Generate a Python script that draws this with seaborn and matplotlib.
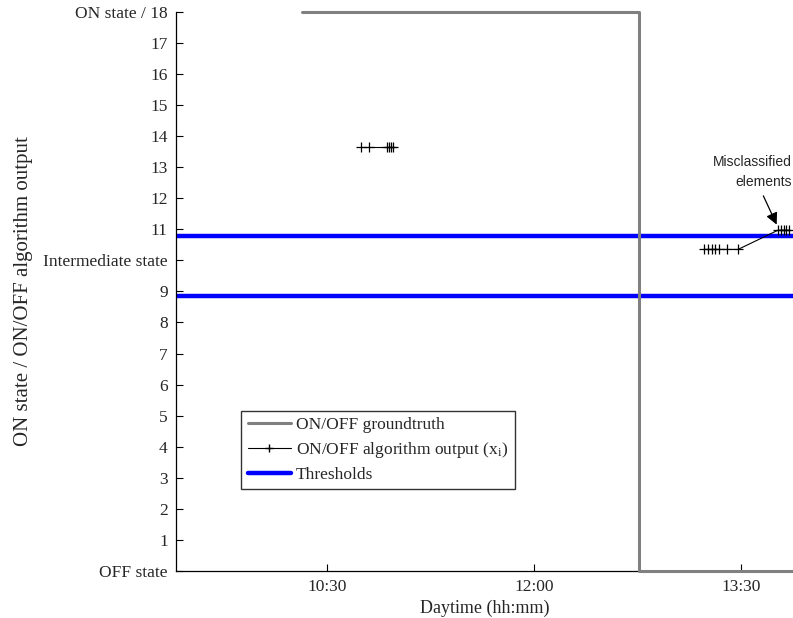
import matplotlib
matplotlib.use("Agg")
import matplotlib.pyplot as plt
from matplotlib.lines import Line2D
import numpy as np
import pandas as pd
import seaborn as sns

# Time axis in minutes since midnight
tick_minutes = [630, 720, 810]
tick_labels = ["10:30", "12:00", "13:30"]

# Ground truth ON/OFF state of the appliance
gt_time = [619.1, 765.7, 765.7, 840.0]
gt_state = [18, 18, 0, 0]

# Algorithm output x_i, two runs of consecutive detections
algo_time_a = [644.8, 648.3, 656.1, 657.0, 657.8, 658.7]
algo_value_a = [13.65, 13.65, 13.65, 13.65, 13.65, 13.65]
algo_time_b = [793.9, 795.7, 797.4, 798.7, 800.4, 803.9, 808.7,
               826.1, 827.4, 828.7, 829.6, 830.9]
algo_value_b = [10.35, 10.35, 10.35, 10.35, 10.35, 10.35, 10.35,
                10.97, 10.97, 10.97, 10.97, 10.97]

# Classification thresholds
thresholds = [8.85, 10.79]

y_ticks = list(range(0, 19))
y_labels = [str(v) for v in y_ticks]
y_labels[0] = "OFF state"
y_labels[10] = "Intermediate state"
y_labels[18] = "ON state / 18"

sns.set_theme(style="white")
plt.rcParams["font.family"] = ["Liberation Serif", "DejaVu Serif"]
plt.rcParams["mathtext.fontset"] = "stix"

fig = plt.figure(figsize=(7.93, 6.18), dpi=100)
ax = fig.add_axes([0.222, 0.076, 0.778, 0.905])

gt = pd.DataFrame({"time": gt_time, "state": gt_state})
algo = pd.DataFrame({
    "time": algo_time_a + algo_time_b,
    "value": algo_value_a + algo_value_b,
    "run": ["a"] * len(algo_time_a) + ["b"] * len(algo_time_b),
})

for t in thresholds:
    ax.axhline(t, color="#0000ff", lw=3.2, zorder=2)

sns.lineplot(data=gt, x="time", y="state", color="#808080", lw=2.2,
             sort=False, estimator=None, ax=ax, zorder=3, clip_on=False)
sns.lineplot(data=algo, x="time", y="value", units="run", estimator=None,
             sort=False, color="black", lw=0.8, marker="+", markersize=7,
             markeredgewidth=0.9, markeredgecolor="black", ax=ax, zorder=4)

ax.set_xlim(564.4, 832.6)
ax.set_ylim(0, 18)
ax.set_xticks(tick_minutes)
ax.set_xticklabels(tick_labels)
ax.set_yticks(y_ticks)
ax.set_yticklabels(y_labels)
ax.tick_params(direction="in", length=5, width=0.8, color="black",
               labelsize=12.5, pad=6, left=True, bottom=True)
for side in ["top", "right"]:
    ax.spines[side].set_visible(False)
for side in ["left", "bottom"]:
    ax.spines[side].set_color("black")
    ax.spines[side].set_linewidth(0.9)

ax.set_xlabel("Daytime (hh:mm)", fontsize=13, labelpad=3)
ax.set_ylabel("ON state / ON/OFF algorithm output", fontsize=15, labelpad=7)

ax.annotate("Misclassified\nelements", xy=(825.5, 11.15), xytext=(832.0, 12.85),
            ha="right", va="center", fontsize=10, linespacing=1.55,
            family=["Liberation Sans", "DejaVu Sans"],
            arrowprops=dict(arrowstyle="-|>,head_length=0.7,head_width=0.35",
                            color="black", lw=0.9, shrinkA=3, shrinkB=0),
            annotation_clip=False)

handles = [
    Line2D([], [], color="#808080", lw=2.2),
    Line2D([], [], color="black", lw=0.8, marker="+", markersize=6,
           markevery=[1], markeredgecolor="black"),
    Line2D([], [], color="#0000ff", lw=3.2),
]
labels = ["ON/OFF groundtruth", "ON/OFF algorithm output (x$_{\\mathregular{i}}$)",
          "Thresholds"]
leg = ax.legend(handles, labels, loc="upper left", bbox_to_anchor=(0.106, 0.287),
                frameon=True, fancybox=False, fontsize=12.5, handlelength=2.5,
                handletextpad=0.3, borderpad=0.35, labelspacing=0.4,
                borderaxespad=0)
leg.get_frame().set_edgecolor("black")
leg.get_frame().set_linewidth(1.0)

fig.savefig("out.png", dpi=100)
